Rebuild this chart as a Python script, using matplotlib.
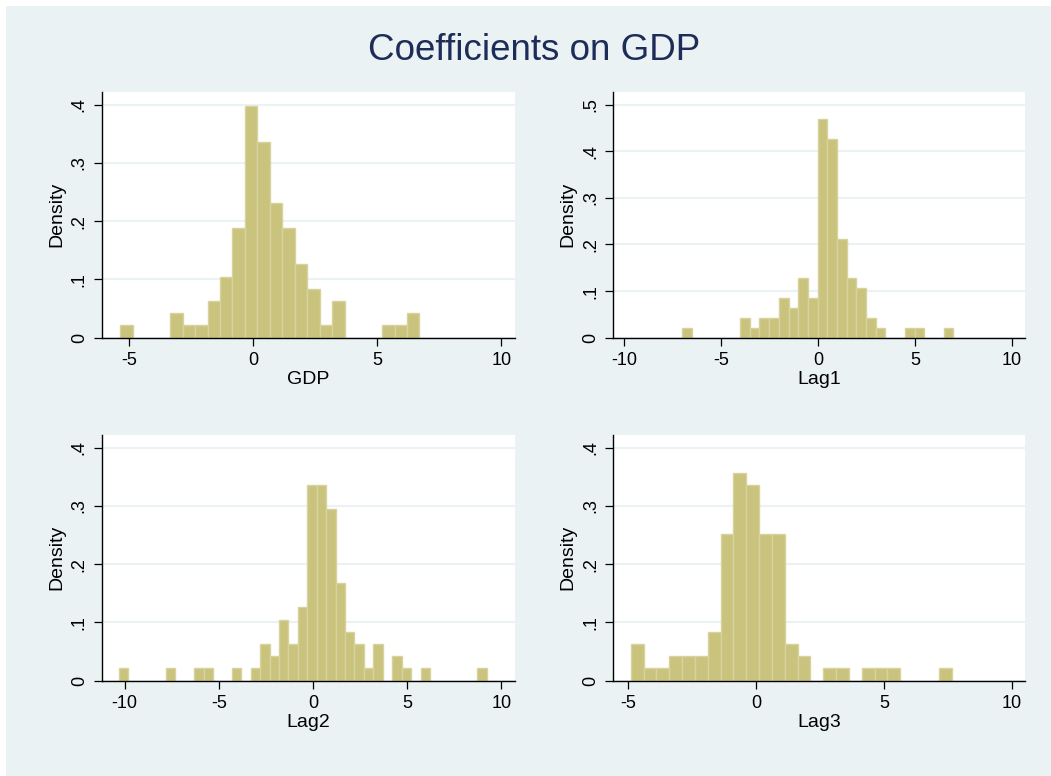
import matplotlib
matplotlib.use("Agg")
import matplotlib.pyplot as plt
from matplotlib.patches import Rectangle
import numpy as np

plt.rcParams["font.family"] = ["Liberation Sans", "DejaVu Sans"]
plt.rcParams["axes.unicode_minus"] = False

# histogram data: first bin edge, bin width, counts per bin
gdp_start, gdp_width = -5.36, 0.5025
gdp_counts = [1, 0, 0, 0, 2, 1, 1, 3, 5, 9, 19, 16, 11, 9, 6, 4, 1, 3, 0, 0, 0, 1, 1, 2]

lag1_start, lag1_width = -7.03, 0.5
lag1_counts = [1, 0, 0, 0, 0, 0, 2, 1, 2, 2, 4, 3, 6, 4, 22, 20, 10, 6, 5, 2, 1, 0, 0, 1, 1, 0, 0, 1]

lag2_start, lag2_width = -10.32, 0.501
lag2_counts = [1, 0, 0, 0, 0, 1, 0, 0, 1, 1, 0, 0, 1, 0, 1, 3, 2, 5, 3, 6,
               16, 16, 14, 8, 4, 3, 1, 3, 0, 2, 1, 0, 1, 0, 0, 0, 0, 0, 1]

lag3_start, lag3_width = -4.91, 0.502
lag3_counts = [3, 1, 1, 2, 2, 2, 4, 12, 17, 16, 12, 12, 3, 2, 0, 1, 1, 0, 1, 1, 1, 0, 0, 0, 1]

labels = ["GDP", "Lag1", "Lag2", "Lag3"]
xticks = [[-5, 0, 5, 10], [-10, -5, 0, 5, 10], [-10, -5, 0, 5, 10], [-5, 0, 5, 10]]
yticks = [[0, .1, .2, .3, .4], [0, .1, .2, .3, .4, .5], [0, .1, .2, .3, .4], [0, .1, .2, .3, .4]]
xlims = [(-6.11, 10.55), (-10.57, 10.67), (-11.22, 10.73), (-5.59, 10.51)]
ylims = [0.4218, 0.527, 0.422, 0.422]

bg = "#EAF2F3"
bar_fill = "#C9C37D"
bar_edge = "#D8D39E"

fig = plt.figure(figsize=(10.51, 7.76), dpi=100)
fig.patch.set_facecolor("white")
fig.add_artist(Rectangle((6 / 1051, 0), 1, 1 - 6 / 776, transform=fig.transFigure,
                         facecolor=bg, edgecolor="none", zorder=-5))

fig.text(0.508, 1 - 60 / 776, "Coefficients on GDP", ha="center", va="baseline",
         fontsize=26.5, color="#1E2D57")

positions = [
    [101.7 / 1051, 1 - 337.7 / 776, 413.3 / 1051, 245.7 / 776],
    [613.3 / 1051, 1 - 337.7 / 776, 411.7 / 1051, 245.7 / 776],
    [101.7 / 1051, 1 - 680.7 / 776, 413.3 / 1051, 245.7 / 776],
    [613.3 / 1051, 1 - 680.7 / 776, 411.7 / 1051, 245.7 / 776],
]

data = [
    (gdp_start, gdp_width, gdp_counts),
    (lag1_start, lag1_width, lag1_counts),
    (lag2_start, lag2_width, lag2_counts),
    (lag3_start, lag3_width, lag3_counts),
]

for i, (start, width, counts) in enumerate(data):
    ax = fig.add_axes(positions[i])
    counts = np.array(counts, dtype=float)
    left_edges = start + width * np.arange(len(counts))
    dens = counts / (counts.sum() * width)
    keep = counts > 0
    ax.bar(left_edges[keep], dens[keep], width=width, align="edge",
           color=bar_fill, edgecolor=bar_edge, linewidth=1.0, zorder=2)

    ax.set_facecolor("white")
    ax.set_xlim(*xlims[i])
    ax.set_ylim(0, ylims[i])
    ax.set_xticks(xticks[i])
    ax.set_xticklabels([str(t) for t in xticks[i]])
    ax.set_yticks(yticks[i])
    ax.set_yticklabels(["0" if t == 0 else ("%.1f" % t)[1:] for t in yticks[i]],
                       rotation=90, va="center")
    ax.grid(axis="y", color=bg, linewidth=1.5, zorder=1)
    ax.set_axisbelow(True)
    for side in ["top", "right"]:
        ax.spines[side].set_visible(False)
    for side in ["left", "bottom"]:
        ax.spines[side].set_color("black")
        ax.spines[side].set_linewidth(1.0)
    ax.tick_params(axis="both", direction="out", length=6, width=0.9,
                   labelsize=13, colors="black", pad=4)
    ax.set_xlabel(labels[i], fontsize=14, labelpad=2)
    ax.set_ylabel("Density", fontsize=14, labelpad=4)

fig.savefig("out.png", dpi=100, facecolor=fig.get_facecolor())
